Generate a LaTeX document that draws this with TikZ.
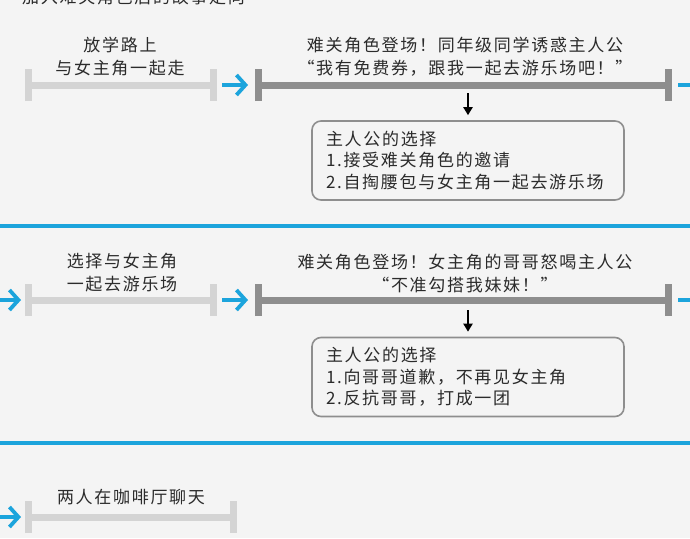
\documentclass[tikz,border=0pt]{standalone}
\usepackage{fontspec}
\usetikzlibrary{arrows.meta, positioning}
\newfontfamily\cjk[LetterSpace=10]{Noto Sans CJK SC}
\definecolor{bg}{HTML}{F4F4F4}
\definecolor{lgray}{HTML}{D4D4D4}
\definecolor{dgray}{HTML}{8E8E8E}
\definecolor{sky}{HTML}{1CA4DC}
\definecolor{ink}{HTML}{2B2B2B}
\tikzset{
  lite/.style  = {line width=7pt, draw=lgray, {Bar[width=32pt]}-{Bar[width=32pt]}},
  dark/.style  = {line width=7pt, draw=dgray, {Bar[width=32pt]}-{Bar[width=32pt]}},
  flow/.style  = {line width=3.8pt, draw=sky, -{Straight Barb[length=9pt, width=20pt]}},
  down/.style  = {line width=2pt, draw=black, -{Triangle[length=8pt, width=9pt]}},
  sep/.style   = {line width=4pt, draw=sky},
  lbl/.style   = {font=\cjk\fontsize{17}{23}\selectfont, text=ink, align=center,
                  inner sep=0pt},
  choice/.style= {rectangle, rounded corners=9pt, draw=dgray, line width=1.6pt,
                  fill=bg, minimum width=312pt, minimum height=79pt,
                  text width=284pt, align=left, inner sep=0pt, text=ink,
                  font=\cjk\fontsize{17}{21.5}\selectfont},
}
\begin{document}
\begin{tikzpicture}[x=1pt, y=-1pt]

  \useasboundingbox (0,0) rectangle (690,538);
  \clip (0,0) rectangle (690,538);
  \fill[bg] (0,0) rectangle (690,538);

  \node[lbl, anchor=base west] (title) at (22,4) {加入难关角色后的故事走向};

  % row 1
  \coordinate (a1) at (25,85);  \coordinate (b1) at (217,85);
  \coordinate (a2) at (255,85); \coordinate (b2) at (672,85);
  \coordinate (out1) at (704,85);
  \draw[lite] (a1) -- (b1);
  \draw[dark] (a2) -- (b2);
  \draw[flow, shorten <=5pt, shorten >=7pt] (b1) -- (a2);
  \draw[flow, shorten <=6pt] (b2) -- (out1);
  \node[lbl] (walk) at (120,57) {放学路上\\与女主角一起走};
  \node[lbl] (rival1) at (465,57) {难关角色登场！同年级同学诱惑主人公\\“我有免费券，跟我一起去游乐场吧！”};
  \node[choice] (pick1) at (468,160.5) {主人公的选择\\1.接受难关角色的邀请\\2.自掏腰包与女主角一起去游乐场};
  \coordinate (d1) at (468,93);
  \draw[down, shorten >=5pt] (d1) -- (pick1.north);

  \coordinate (sepL1) at (0,226); \coordinate (sepR1) at (690,226);
  \draw[sep] (sepL1) -- (sepR1);

  % row 2
  \coordinate (in2) at (-10,300);
  \coordinate (a3) at (25,300);  \coordinate (b3) at (217,300);
  \coordinate (a4) at (255,300); \coordinate (b4) at (672,300);
  \coordinate (out2) at (704,300);
  \draw[lite] (a3) -- (b3);
  \draw[dark] (a4) -- (b4);
  \draw[flow, shorten >=4pt] (in2) -- (a3);
  \draw[flow, shorten <=5pt, shorten >=7pt] (b3) -- (a4);
  \draw[flow, shorten <=6pt] (b4) -- (out2);
  \node[lbl] (park) at (122,273) {选择与女主角\\一起去游乐场};
  \node[lbl] (rival2) at (465,273) {难关角色登场！女主角的哥哥怒喝主人公\\“不准勾搭我妹妹！”};
  \node[choice] (pick2) at (468,377) {主人公的选择\\1.向哥哥道歉，不再见女主角\\2.反抗哥哥，打成一团};
  \coordinate (d2) at (468,310);
  \draw[down, shorten >=5pt] (d2) -- (pick2.north);

  \coordinate (sepL2) at (0,443); \coordinate (sepR2) at (690,443);
  \draw[sep] (sepL2) -- (sepR2);

  % row 3
  \coordinate (in3) at (-10,517);
  \coordinate (a5) at (25,517); \coordinate (b5) at (237,517);
  \draw[lite] (a5) -- (b5);
  \draw[flow, shorten >=4pt] (in3) -- (a5);
  \node[lbl] (cafe) at (131,497) {两人在咖啡厅聊天};

\end{tikzpicture}
\end{document}
